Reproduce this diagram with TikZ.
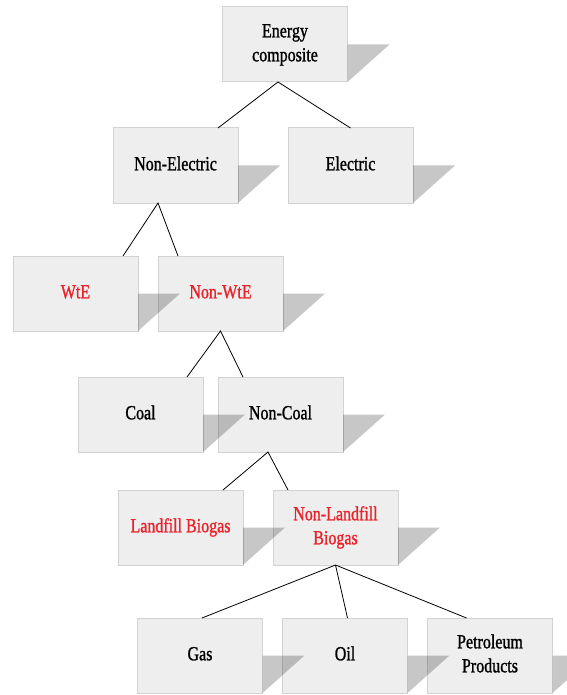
\documentclass[tikz,border=0pt]{standalone}
\usepackage{fontspec}
\setmainfont{Liberation Serif}[BoldFont=Liberation Serif,BoldFeatures={FakeBold=1.3}]
\usepackage{xcolor}
\usetikzlibrary{positioning}
\definecolor{boxfill}{HTML}{EEEEEE}
\definecolor{boxline}{HTML}{D2D2D2}
\definecolor{wtered}{HTML}{E8232C}
% narrow, tall lettering as in the source chart
\newcommand{\narrow}[1]{\scalebox{0.8}[1]{\begin{tabular}{@{}c@{}}#1\end{tabular}}}

\begin{document}
\begin{tikzpicture}[x=1pt,y=1pt,
  box/.style={draw=boxline,line width=1pt,fill=boxfill,align=center,inner sep=0pt,outer sep=0pt,
    minimum width=125pt,minimum height=75pt,font=\fontsize{20}{24}\selectfont\bfseries},
  hot/.style={text=wtered},
  link/.style={draw=black,line width=0.8pt},
  shade/.style={fill=black,opacity=0.22}]
\useasboundingbox (0,0) rectangle (566,-695);
\node[box] (ecomp) at (285,-44.5) {\narrow{Energy\\composite}};
\node[box,below=46pt of ecomp,xshift=-109.5pt] (nonelec) {\narrow{Non-Electric}};
\node[box,right=50pt of nonelec] (elec) {\narrow{Electric}};
\node[box,hot,below=53pt of nonelec,xshift=-100pt] (wte) {\narrow{WtE}};
\node[box,hot,right=20pt of wte] (nonwte) {\narrow{Non-WtE}};
\node[box,below=46pt of nonwte,xshift=-80pt] (coal) {\narrow{Coal}};
\node[box,right=15pt of coal] (noncoal) {\narrow{Non-Coal}};
\node[box,hot,below=38pt of noncoal,xshift=-100pt] (landfill) {\narrow{Landfill Biogas}};
\node[box,hot,right=30pt of landfill] (nonlandfill) {\narrow{Non-Landfill\\Biogas}};
\node[box,below=53pt of nonlandfill,xshift=-135.5pt] (gas) {\narrow{Gas}};
\node[box,right=20pt of gas] (oil) {\narrow{Oil}};
\node[box,right=20pt of oil] (petro) {\narrow{Petroleum\\Products}};
% shadows
\foreach \n in {ecomp,nonelec,elec,wte,nonwte,coal,noncoal,landfill,nonlandfill,gas,oil,petro}
  \fill[shade] (\n.east) -- ++(42,0) -- (\n.south east) -- cycle;
% links
\draw[link] ([xshift=42.5pt]nonelec.north) -- ([xshift=-7pt]ecomp.south) -- (elec.north);
\draw[link] ([xshift=47.5pt]wte.north) -- ([xshift=-17.5pt]nonelec.south) -- ([xshift=-42.5pt]nonwte.north);
\draw[link] ([xshift=46.5pt]coal.north) -- (nonwte.south) -- ([xshift=-37.5pt]noncoal.north);
\draw[link] ([xshift=42.5pt]landfill.north) -- ([xshift=-12.5pt]noncoal.south) -- ([xshift=-47.5pt]nonlandfill.north);
\draw[link] ([xshift=2pt]gas.north) -- (nonlandfill.south);
\draw[link] ([xshift=2.5pt]oil.north) -- (nonlandfill.south);
\draw[link] ([xshift=-23.5pt]petro.north) -- (nonlandfill.south);
\end{tikzpicture}
\end{document}
